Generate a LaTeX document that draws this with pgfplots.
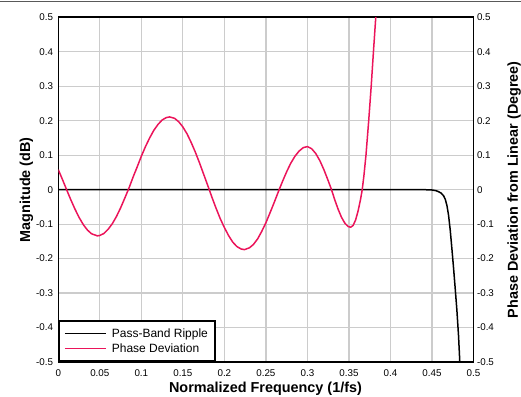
\documentclass[border=0pt]{standalone}
\usepackage{fontspec}
\setmainfont{Liberation Sans}
\usepackage{pgfplots}
\pgfplotsset{compat=1.18}
\definecolor{phasepink}{RGB}{235,20,90}
\definecolor{gridgray}{RGB}{204,204,204}
\begin{document}
\begin{tikzpicture}
\useasboundingbox (0,0) rectangle (521pt,396pt);
\draw[line width=0.8pt, black!65] (0,394.6pt) -- (521pt,394.6pt);
\begin{axis}[
  at={(58.3pt,34pt)}, anchor=south west,
  scale only axis, width=415.2pt, height=344.7pt,
  xmin=0, xmax=0.5, ymin=-0.5, ymax=0.5,
  xtick={0,0.05,0.1,0.15,0.2,0.25,0.3,0.35,0.4,0.45,0.5},
  ytick={-0.5,-0.4,-0.3,-0.2,-0.1,0,0.1,0.2,0.3,0.4,0.5},
  grid=major, major grid style={gridgray, line width=1.2pt},
  axis line style={line width=1.6pt},
  major tick length=0pt,
  /pgf/number format/assume math mode=true,
  tick label style={font=\fontsize{9.8}{11}\selectfont},
  xticklabel style={/pgf/number format/fixed, /pgf/number format/precision=2, yshift=-4pt},
  yticklabel style={/pgf/number format/fixed, /pgf/number format/precision=1, xshift=-1.7pt},
  xlabel={Normalized Frequency (1/fs)},
  xlabel style={font=\bfseries\fontsize{14.4}{16}\selectfont, at={(axis description cs:0.499,-0.089)}, anchor=base},
  ylabel={Magnitude (dB)},
  ylabel style={font=\bfseries\fontsize{14.4}{16}\selectfont, at={(axis description cs:-0.068,0.5)}, anchor=base},
  legend style={at={(0,0)}, anchor=south west, draw=black, line width=1.6pt, fill=white,
    font=\fontsize{12}{14}\selectfont, inner xsep=5pt, inner ysep=5pt},
  legend cell align=left,
  legend image code/.code={\draw[#1, line width=1.5pt] (0pt,0pt) -- (41pt,0pt); \path[draw=none,fill=none] (0pt,-7.5pt) rectangle (45pt,7.5pt);},
]
\addplot[black, line width=1.5pt, line join=round] coordinates {
(0,0) (0.44,0) (0.450,-0.001) (0.455,-0.003) (0.458,-0.006) (0.461,-0.010) (0.464,-0.018) (0.466,-0.028) (0.468,-0.046) (0.470,-0.075) (0.472,-0.118) (0.474,-0.172) (0.476,-0.228) (0.478,-0.288) (0.480,-0.350) (0.482,-0.425) (0.4835,-0.5) (0.485,-0.57)
};
\addlegendentry{Pass-Band Ripple}
\addplot[phasepink, line width=1.5pt, line join=round] coordinates {
(0,0.058) (0.005,0.0295) (0.010,0) (0.015,-0.029) (0.020,-0.056) (0.025,-0.0805) (0.030,-0.101) (0.035,-0.117) (0.040,-0.128) (0.047,-0.134) (0.050,-0.133) (0.055,-0.127) (0.060,-0.115) (0.065,-0.099) (0.070,-0.078) (0.075,-0.053) (0.080,-0.025) (0.085,0.004) (0.090,0.036) (0.095,0.066) (0.100,0.097) (0.105,0.125) (0.110,0.150) (0.115,0.172) (0.120,0.189) (0.125,0.202) (0.130,0.209) (0.134,0.211) (0.140,0.207) (0.145,0.197) (0.150,0.182) (0.155,0.162) (0.160,0.137) (0.165,0.109) (0.170,0.078) (0.175,0.045) (0.180,0.012) (0.185,-0.022) (0.190,-0.054) (0.195,-0.084) (0.200,-0.110) (0.205,-0.133) (0.210,-0.152) (0.215,-0.165) (0.220,-0.172) (0.224,-0.174) (0.230,-0.169) (0.235,-0.159) (0.240,-0.143) (0.245,-0.121) (0.250,-0.096) (0.255,-0.067) (0.260,-0.037) (0.265,-0.006) (0.270,0.024) (0.275,0.052) (0.280,0.077) (0.285,0.097) (0.290,0.112) (0.295,0.122) (0.300,0.125) (0.305,0.119) (0.310,0.105) (0.315,0.084) (0.320,0.057) (0.325,0.026) (0.329,0) (0.333,-0.030) (0.337,-0.057) (0.341,-0.080) (0.345,-0.097) (0.349,-0.107) (0.352,-0.109) (0.355,-0.104) (0.358,-0.088) (0.361,-0.062) (0.364,-0.028) (0.366,0) (0.368,0.040) (0.3705,0.1) (0.3738,0.2) (0.3768,0.3) (0.3795,0.4) (0.3823,0.5) (0.384,0.56)
};
\addlegendentry{Phase Deviation}
\end{axis}
\begin{axis}[
  at={(58.3pt,34pt)}, anchor=south west,
  scale only axis, width=415.2pt, height=344.7pt,
  xmin=0, xmax=0.5, ymin=-0.5, ymax=0.5,
  axis x line=none, axis y line*=right,
  axis line style={line width=1.6pt},
  major tick length=0pt,
  ytick={-0.5,-0.4,-0.3,-0.2,-0.1,0,0.1,0.2,0.3,0.4,0.5},
  /pgf/number format/assume math mode=true,
  tick label style={font=\fontsize{9.8}{11}\selectfont},
  yticklabel style={/pgf/number format/fixed, /pgf/number format/precision=1},
  ylabel={Phase Deviation from Linear (Degree)},
  ylabel style={font=\bfseries\fontsize{14.4}{16}\selectfont, at={(axis description cs:1.107,0.5)}, anchor=base},
]
\end{axis}
\end{tikzpicture}
\end{document}
